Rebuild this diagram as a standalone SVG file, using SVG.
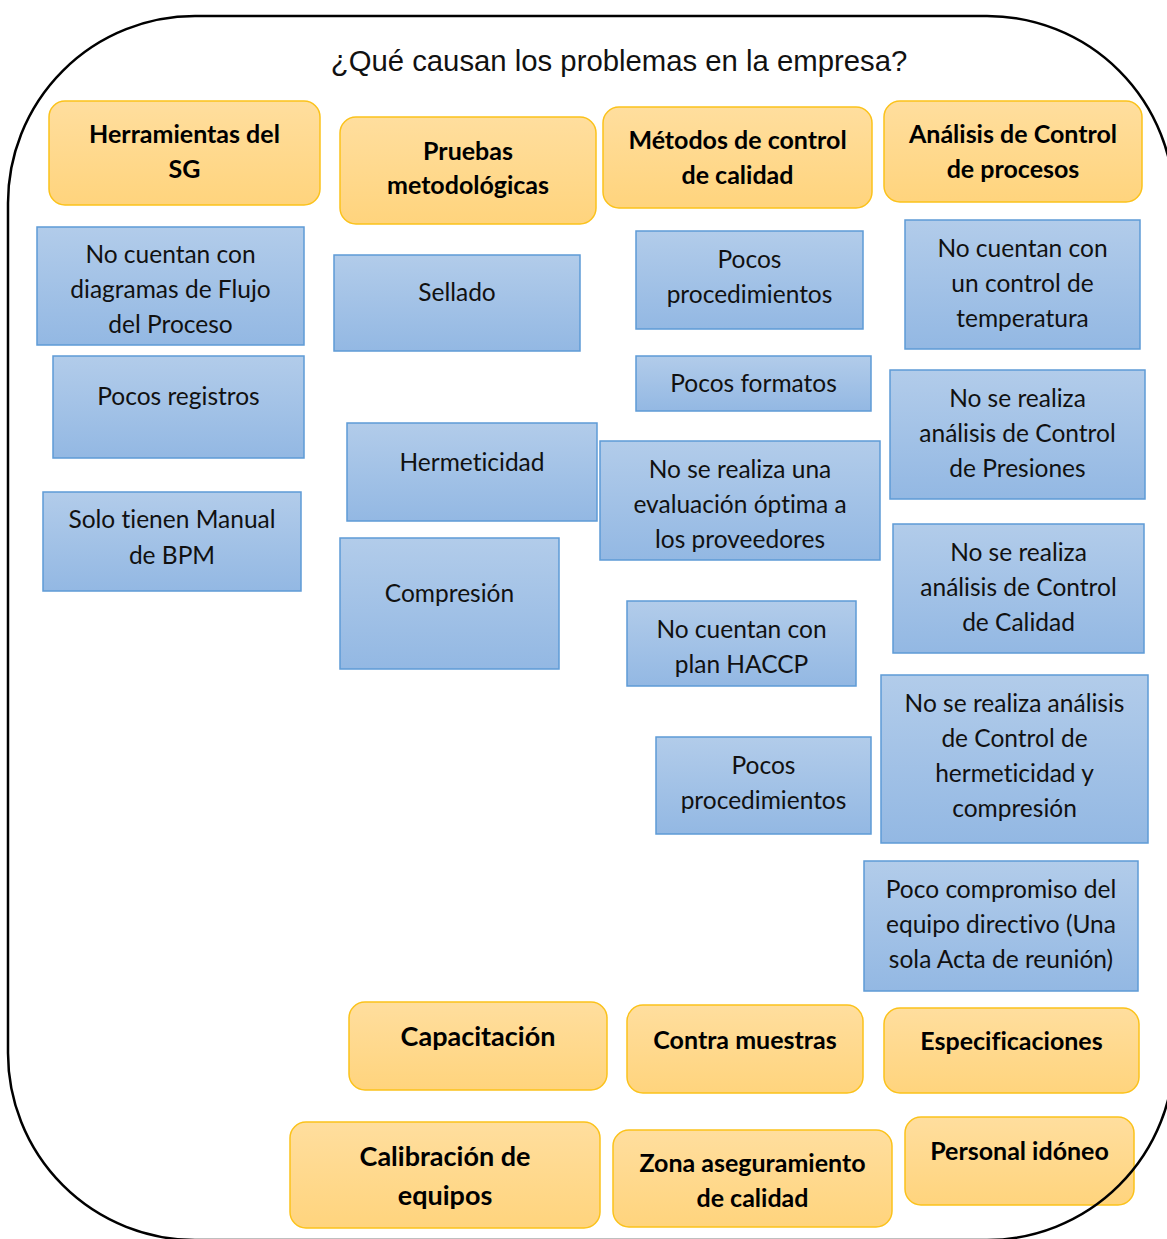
<svg xmlns="http://www.w3.org/2000/svg" width="1167" height="1239" viewBox="0 0 1167 1239">
  <defs>
    <linearGradient id="gOrange" x1="0" y1="0" x2="0" y2="1">
      <stop offset="0" stop-color="#FFDE9E"/>
      <stop offset="1" stop-color="#FFD47D"/>
    </linearGradient>
    <linearGradient id="gBlue" x1="0" y1="0" x2="0" y2="1">
      <stop offset="0" stop-color="#B2CCEA"/>
      <stop offset="1" stop-color="#93B8E3"/>
    </linearGradient>
    <style>
      .o { fill: url(#gOrange); stroke: #FBC21B; stroke-width: 1.5; }
      .b { fill: url(#gBlue); stroke: #5E9BD6; stroke-width: 1.5; }
      text { font-variant-ligatures: none; }
      .ot { font-family: Lato, "Liberation Sans", sans-serif; font-weight: bold; font-size: 25px; fill: #000; text-anchor: middle; }
      .ot.big { font-size: 27px; }
      .bt { font-family: Lato, "Liberation Sans", sans-serif; font-size: 24.5px; fill: #111; text-anchor: middle; }
      .title { font-family: "Liberation Sans", Arial, sans-serif; font-size: 29.3px; fill: #111; text-anchor: middle; }
      .frame { fill: none; stroke: #000; stroke-width: 2.5; }
    </style>
  </defs>

  <rect width="1167" height="1239" fill="#fff"/>

  <text class="title" x="619" y="71">¿Qué causan los problemas en la empresa?</text>

  <!-- category headers (orange) -->
  <g id="cat-herramientas">
    <rect class="o" x="49" y="101" width="271" height="104" rx="16"/>
    <text class="ot" x="184.5" y="143">Herramientas del</text>
    <text class="ot" x="184.5" y="178">SG</text>
  </g>
  <g id="cat-pruebas">
    <rect class="o" x="340" y="117" width="256" height="107" rx="16"/>
    <text class="ot" x="468" y="160">Pruebas</text>
    <text class="ot" x="468" y="194">metodológicas</text>
  </g>
  <g id="cat-metodos">
    <rect class="o" x="603" y="107" width="269" height="101" rx="16"/>
    <text class="ot" x="737.5" y="149">Métodos de control</text>
    <text class="ot" x="737.5" y="184">de calidad</text>
  </g>
  <g id="cat-analisis">
    <rect class="o" x="884" y="101" width="258" height="101" rx="16"/>
    <text class="ot" x="1013" y="143">Análisis de Control</text>
    <text class="ot" x="1013" y="178">de procesos</text>
  </g>

  <!-- causes (blue) -->
  <g id="c-diagramas">
    <rect class="b" x="37" y="227" width="267" height="118"/>
    <text class="bt" x="170.5" y="263">No cuentan con</text>
    <text class="bt" x="170.5" y="298">diagramas de Flujo</text>
    <text class="bt" x="170.5" y="333">del Proceso</text>
  </g>
  <g id="c-registros">
    <rect class="b" x="53" y="356" width="251" height="102"/>
    <text class="bt" x="178.5" y="405">Pocos registros</text>
  </g>
  <g id="c-manual">
    <rect class="b" x="43" y="492" width="258" height="99"/>
    <text class="bt" x="172" y="528">Solo tienen Manual</text>
    <text class="bt" x="172" y="564">de BPM</text>
  </g>
  <g id="c-sellado">
    <rect class="b" x="334" y="255" width="246" height="96"/>
    <text class="bt" x="457" y="301">Sellado</text>
  </g>
  <g id="c-hermeticidad">
    <rect class="b" x="347" y="423" width="250" height="98"/>
    <text class="bt" x="472" y="471">Hermeticidad</text>
  </g>
  <g id="c-compresion">
    <rect class="b" x="340" y="538" width="219" height="131"/>
    <text class="bt" x="449.5" y="602">Compresión</text>
  </g>
  <g id="c-procedimientos-1">
    <rect class="b" x="636" y="231" width="227" height="98"/>
    <text class="bt" x="749.5" y="268">Pocos</text>
    <text class="bt" x="749.5" y="303">procedimientos</text>
  </g>
  <g id="c-formatos">
    <rect class="b" x="636" y="356" width="235" height="55"/>
    <text class="bt" x="753.5" y="392">Pocos formatos</text>
  </g>
  <g id="c-proveedores">
    <rect class="b" x="600" y="441" width="280" height="119"/>
    <text class="bt" x="740" y="478">No se realiza una</text>
    <text class="bt" x="740" y="513">evaluación óptima a</text>
    <text class="bt" x="740" y="548">los proveedores</text>
  </g>
  <g id="c-haccp">
    <rect class="b" x="627" y="601" width="229" height="85"/>
    <text class="bt" x="741.5" y="638">No cuentan con</text>
    <text class="bt" x="741.5" y="673">plan HACCP</text>
  </g>
  <g id="c-procedimientos-2">
    <rect class="b" x="656" y="737" width="215" height="97"/>
    <text class="bt" x="763.5" y="774">Pocos</text>
    <text class="bt" x="763.5" y="809">procedimientos</text>
  </g>
  <g id="c-temperatura">
    <rect class="b" x="905" y="220" width="235" height="129"/>
    <text class="bt" x="1022.5" y="257">No cuentan con</text>
    <text class="bt" x="1022.5" y="292">un control de</text>
    <text class="bt" x="1022.5" y="327">temperatura</text>
  </g>
  <g id="c-presiones">
    <rect class="b" x="890" y="370" width="255" height="129"/>
    <text class="bt" x="1017.5" y="407">No se realiza</text>
    <text class="bt" x="1017.5" y="442">análisis de Control</text>
    <text class="bt" x="1017.5" y="477">de Presiones</text>
  </g>
  <g id="c-calidad">
    <rect class="b" x="893" y="524" width="251" height="129"/>
    <text class="bt" x="1018.5" y="561">No se realiza</text>
    <text class="bt" x="1018.5" y="596">análisis de Control</text>
    <text class="bt" x="1018.5" y="631">de Calidad</text>
  </g>
  <g id="c-hermeticidad-compresion">
    <rect class="b" x="881" y="675" width="267" height="168"/>
    <text class="bt" x="1014.5" y="712">No se realiza análisis</text>
    <text class="bt" x="1014.5" y="747">de Control de</text>
    <text class="bt" x="1014.5" y="782">hermeticidad y</text>
    <text class="bt" x="1014.5" y="817">compresión</text>
  </g>
  <g id="c-compromiso">
    <rect class="b" x="864" y="861" width="274" height="130"/>
    <text class="bt" x="1001" y="898">Poco compromiso del</text>
    <text class="bt" x="1001" y="933">equipo directivo (Una</text>
    <text class="bt" x="1001" y="968">sola Acta de reunión)</text>
  </g>

  <!-- bottom categories (orange) -->
  <g id="cat-capacitacion">
    <rect class="o" x="349" y="1002" width="258" height="88" rx="16"/>
    <text class="ot big" x="478" y="1046">Capacitación</text>
  </g>
  <g id="cat-contramuestras">
    <rect class="o" x="627" y="1005" width="236" height="88" rx="16"/>
    <text class="ot" x="745" y="1049">Contra muestras</text>
  </g>
  <g id="cat-especificaciones">
    <rect class="o" x="884" y="1008" width="255" height="85" rx="16"/>
    <text class="ot" x="1011.5" y="1050">Especificaciones</text>
  </g>
  <g id="cat-calibracion">
    <rect class="o" x="290" y="1122" width="310" height="106" rx="16"/>
    <text class="ot big" x="445" y="1166">Calibración de</text>
    <text class="ot big" x="445" y="1205">equipos</text>
  </g>
  <g id="cat-zona">
    <rect class="o" x="613" y="1130" width="279" height="97" rx="16"/>
    <text class="ot" x="752.5" y="1172">Zona aseguramiento</text>
    <text class="ot" x="752.5" y="1207">de calidad</text>
  </g>
  <g id="cat-personal">
    <rect class="o" x="905" y="1117" width="229" height="88" rx="16"/>
    <text class="ot" x="1019.5" y="1160">Personal idóneo</text>
  </g>

  <!-- enclosing rounded frame, drawn over the boxes -->
  <g id="connectors">
    <path class="frame" d="M195 16 H987 A187 187 0 0 1 1174 203 V1053 A187 187 0 0 1 987 1240 H195 A187 187 0 0 1 8 1053 V203 A187 187 0 0 1 195 16 Z"/>
  </g>
</svg>
